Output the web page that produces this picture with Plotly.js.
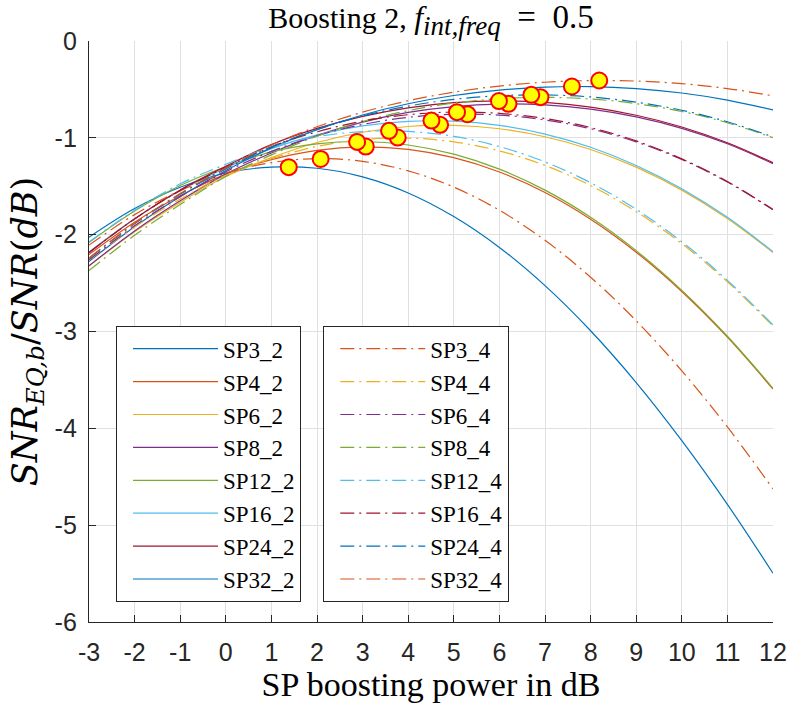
<!DOCTYPE html>
<html>
<head>
<meta charset="utf-8">
<script src="https://cdn.plot.ly/plotly-3.0.1.min.js"></script>
<style>html,body{margin:0;padding:0;background:#fff;}#chart{width:790px;height:712px;}</style>
</head>
<body>
<div id="chart"></div>
<script>
// boosting power (dB) sample positions
const boostDb = [-3,-2,-1,0,1,2,3,4,5,6,7,8,9,10,11,12];

// SNR_EQ,b/SNR (dB)
const sp3_2  = [-2.026,-1.730,-1.510,-1.363,-1.302,-1.314,-1.403,-1.569,-1.813,-2.132,-2.526,-2.992,-3.527,-4.127,-4.785,-5.497];
const sp4_2  = [-2.205,-1.871,-1.598,-1.375,-1.225,-1.129,-1.093,-1.119,-1.205,-1.353,-1.564,-1.840,-2.181,-2.587,-3.059,-3.595];
const sp6_2  = [-2.324,-1.969,-1.667,-1.400,-1.205,-1.048,-0.942,-0.883,-0.871,-0.906,-0.989,-1.120,-1.303,-1.540,-1.833,-2.185];
const sp8_2  = [-2.321,-1.961,-1.650,-1.375,-1.156,-0.975,-0.837,-0.738,-0.677,-0.651,-0.660,-0.704,-0.784,-0.902,-1.061,-1.266];
const sp12_2 = [-2.080,-1.756,-1.493,-1.299,-1.145,-1.062,-1.038,-1.074,-1.168,-1.323,-1.540,-1.820,-2.165,-2.575,-3.049,-3.587];
const sp16_2 = [-2.178,-1.835,-1.546,-1.311,-1.112,-0.970,-0.877,-0.830,-0.828,-0.871,-0.961,-1.097,-1.285,-1.525,-1.821,-2.176];
const sp24_2 = [-2.186,-1.837,-1.538,-1.294,-1.070,-0.903,-0.778,-0.690,-0.637,-0.619,-0.634,-0.683,-0.767,-0.888,-1.051,-1.257];
const sp32_2 = [-2.277,-1.918,-1.607,-1.337,-1.104,-0.915,-0.764,-0.648,-0.563,-0.507,-0.476,-0.471,-0.491,-0.537,-0.610,-0.712];
const sp3_4  = [-2.108,-1.793,-1.546,-1.363,-1.256,-1.214,-1.243,-1.341,-1.509,-1.748,-2.058,-2.439,-2.889,-3.406,-3.986,-4.626];
const sp4_4  = [-2.265,-1.921,-1.633,-1.388,-1.215,-1.089,-1.018,-1.002,-1.041,-1.135,-1.285,-1.493,-1.762,-2.093,-2.487,-2.944];
const sp6_4  = [-2.260,-1.908,-1.607,-1.350,-1.140,-0.978,-0.862,-0.788,-0.756,-0.765,-0.815,-0.906,-1.042,-1.224,-1.457,-1.743];
const sp8_4  = [-2.371,-2.006,-1.689,-1.400,-1.176,-0.983,-0.832,-0.719,-0.641,-0.596,-0.582,-0.599,-0.647,-0.728,-0.844,-0.999];
const sp12_4 = [-2.076,-1.747,-1.475,-1.273,-1.094,-0.988,-0.935,-0.934,-0.985,-1.090,-1.249,-1.464,-1.738,-2.074,-2.472,-2.932];
const sp16_4 = [-2.185,-1.838,-1.544,-1.304,-1.092,-0.938,-0.828,-0.761,-0.734,-0.747,-0.800,-0.894,-1.032,-1.217,-1.451,-1.739];
const sp24_4 = [-2.243,-1.888,-1.582,-1.322,-1.094,-0.914,-0.775,-0.673,-0.603,-0.565,-0.557,-0.578,-0.631,-0.715,-0.834,-0.990];
const sp32_4 = [-2.240,-1.883,-1.574,-1.311,-1.074,-0.886,-0.735,-0.617,-0.528,-0.465,-0.426,-0.409,-0.414,-0.441,-0.491,-0.566];

// optimum points (yellow circles)
const peakX = [1.38, 3.07, 4.70, 6.20, 2.88, 4.51, 5.99, 7.59, 2.08, 3.77, 5.30, 6.90, 3.58, 5.07, 6.70, 8.19];
const peakY = [-1.303,-1.090,-0.866,-0.649,-1.042,-0.822,-0.620,-0.470,-1.218,-0.997,-0.756,-0.580,-0.928,-0.735,-0.556,-0.408];

const names2 = ['SP3_2','SP4_2','SP6_2','SP8_2','SP12_2','SP16_2','SP24_2','SP32_2'];
const names4 = ['SP3_4','SP4_4','SP6_4','SP8_4','SP12_4','SP16_4','SP24_4','SP32_4'];
const series2 = [sp3_2, sp4_2, sp6_2, sp8_2, sp12_2, sp16_2, sp24_2, sp32_2];
const series4 = [sp3_4, sp4_4, sp6_4, sp8_4, sp12_4, sp16_4, sp24_4, sp32_4];
const colors2 = ['#0072BD','#D95319','#EDB120','#7E2F8E','#77AC30','#4DBEEE','#A2142F','#0072BD'];
const colors4 = ['#D95319','#EDB120','#7E2F8E','#77AC30','#4DBEEE','#A2142F','#0072BD','#D95319'];

const xTicks = [-3,-2,-1,0,1,2,3,4,5,6,7,8,9,10,11,12];
const xTickText = ['-3','-2','-1','0','1','2','3','4','5','6','7','8','9','10','11','12'];
const yTicks = [-6,-5,-4,-3,-2,-1,0];
const yTickText = ['-6','-5','-4','-3','-2','-1','0'];

const SERIF = 'Liberation Serif, Times New Roman, serif';

const traces = [];
series2.forEach((s, i) => traces.push({
  x: boostDb, y: s, name: names2[i], type: 'scatter', mode: 'lines',
  line: {color: colors2[i], width: 1.2, shape: 'spline'}, legend: 'legend', hoverinfo: 'skip'
}));
series4.forEach((s, i) => traces.push({
  x: boostDb, y: s, name: names4[i], type: 'scatter', mode: 'lines',
  line: {color: colors4[i], width: 1.2, shape: 'spline', dash: '14px,5px,2px,5px'}, legend: 'legend2', hoverinfo: 'skip'
}));
traces.push({
  x: peakX, y: peakY, type: 'scatter', mode: 'markers', showlegend: false, hoverinfo: 'skip',
  marker: {size: 16, color: '#FFFF00', line: {color: '#FF0000', width: 2}}
});

const axisCommon = {
  showgrid: true, gridcolor: '#e0e0e0', gridwidth: 1, zeroline: false,
  showline: true, linecolor: '#262626', linewidth: 1.2, mirror: false,
  ticks: 'inside', ticklen: 7, tickwidth: 1, tickcolor: '#262626',
  tickfont: {family: 'Liberation Sans, Arial, sans-serif', size: 25, color: '#262626'},
  tickmode: 'array', fixedrange: true
};

const legendCommon = {
  xanchor: 'left', yanchor: 'top', bgcolor: '#ffffff', bordercolor: '#262626', borderwidth: 1,
  font: {family: SERIF, size: 23, color: '#000'},
  itemwidth: 85, indentation: 11, tracegroupgap: 0, traceorder: 'normal'
};

const layout = {
  width: 790, height: 712,
  margin: {l: 89, r: 17, t: 41, b: 90},
  paper_bgcolor: '#ffffff', plot_bgcolor: '#ffffff',
  title: {
    text: 'Boosting 2, <span style="font-size:32px"><i>f</i></span><sub><span style="font-size:27px"><i>int,freq</i></span></sub><span style="font-size:33px">\u2002=\u20020.5</span>',
    font: {family: SERIF, size: 30, color: '#000'},
    x: 0.5, xref: 'paper', xanchor: 'center', y: 0.975, yref: 'container', yanchor: 'middle'
  },
  xaxis: Object.assign({}, axisCommon, {
    range: [-3, 12], tickvals: xTicks, ticktext: xTickText, ticklabelstandoff: 8,
    title: {text: 'SP boosting power in dB', standoff: 4,
      font: {family: SERIF, size: 34, color: '#000'}}
  }),
  yaxis: Object.assign({}, axisCommon, {
    range: [-6, 0], tickvals: yTicks, ticktext: yTickText, ticklabelstandoff: 6,
    title: {text: '<i>SNR</i><sub><i>EQ,b</i></sub>/<i>SNR</i>(<i>dB</i>)', standoff: 6,
      font: {family: 'DejaVu Serif, serif', size: 35, color: '#000'}}
  }),
  legend: Object.assign({}, legendCommon, {x: 0.0395, y: 0.509}),
  legend2: Object.assign({}, legendCommon, {x: 0.3425, y: 0.509}),
  showlegend: true
};

Plotly.newPlot('chart', traces, layout, {displayModeBar: false, staticPlot: true});
</script>
</body>
</html>
